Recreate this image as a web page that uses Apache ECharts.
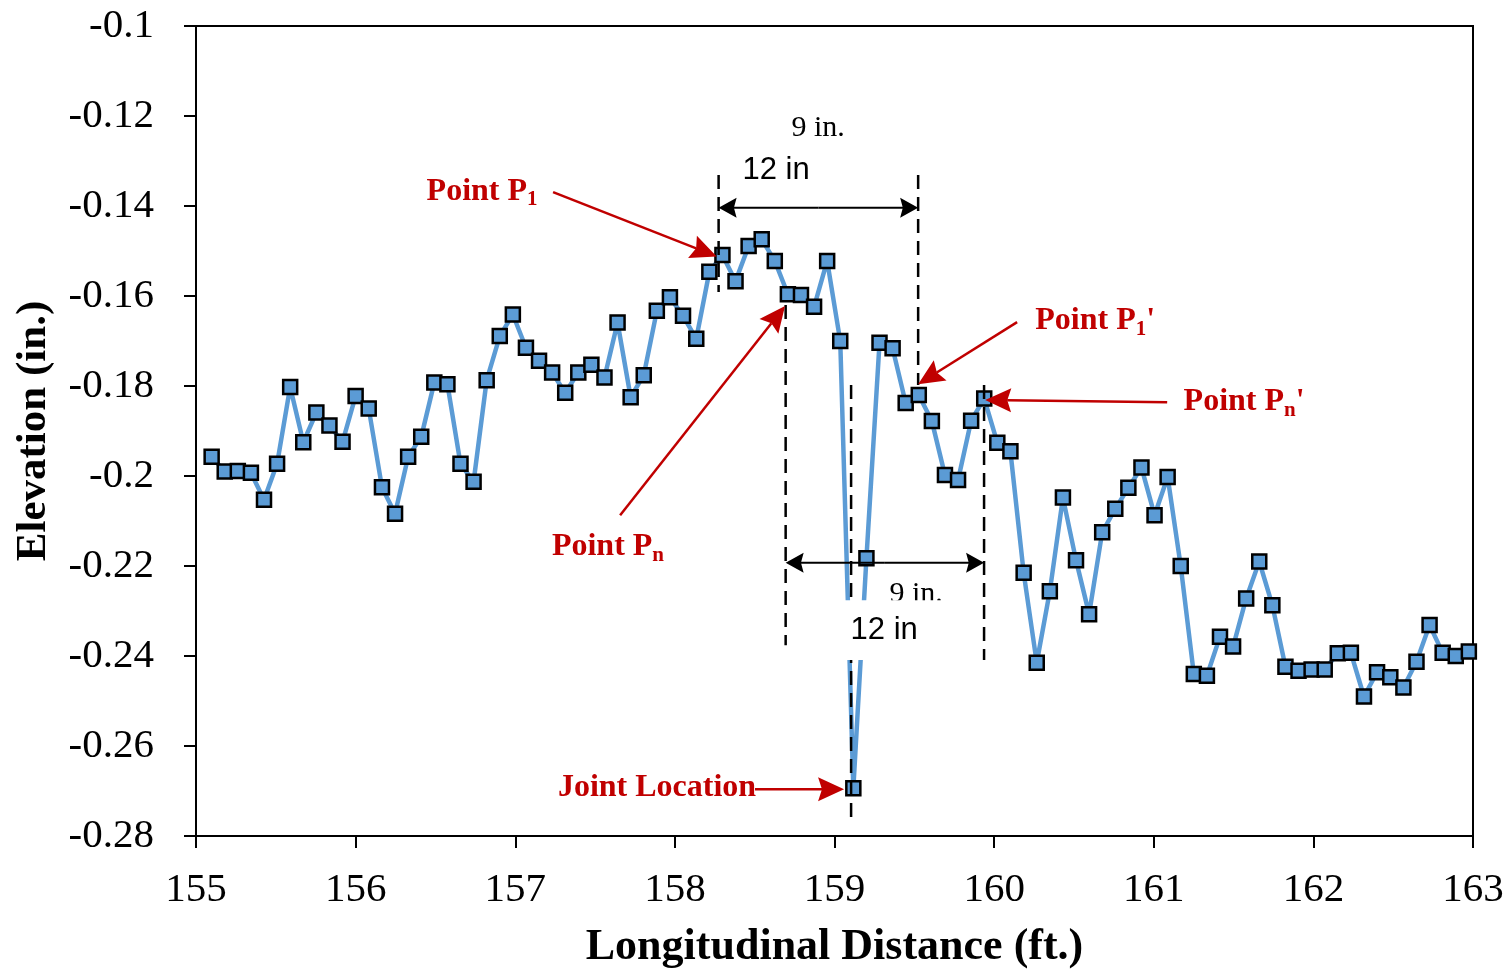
<!DOCTYPE html>
<html>
<head>
<meta charset="utf-8">
<script src="https://cdn.jsdelivr.net/npm/echarts@6/dist/echarts.min.js"></script>
<style>
  html, body { margin: 0; padding: 0; background: #fff; }
  #chart { width: 1509px; height: 970px; }
</style>
</head>
<body>
<div id="chart"></div>
<script>
  // longitudinal distance of each reading (ft.)
  const distance = [
    155.098, 155.180, 155.262, 155.344, 155.426, 155.508, 155.590, 155.672, 155.754, 155.836,
    155.918, 156.000, 156.082, 156.165, 156.247, 156.329, 156.411, 156.493, 156.575, 156.657,
    156.739, 156.821, 156.903, 156.985, 157.067, 157.149, 157.231, 157.313, 157.395, 157.477,
    157.559, 157.641, 157.723, 157.805, 157.887, 157.969, 158.051, 158.134, 158.216, 158.298,
    158.380, 158.462, 158.544, 158.626, 158.708, 158.790, 158.872, 158.954, 159.036, 159.118,
    159.200, 159.282, 159.364, 159.446, 159.528, 159.610, 159.692, 159.774, 159.856, 159.938,
    160.020, 160.102, 160.185, 160.267, 160.349, 160.431, 160.513, 160.595, 160.677, 160.759,
    160.841, 160.923, 161.005, 161.087, 161.169, 161.251, 161.333, 161.415, 161.497, 161.579,
    161.661, 161.743, 161.825, 161.907, 161.989, 162.071, 162.153, 162.235, 162.317, 162.399,
    162.482, 162.564, 162.646, 162.728, 162.810, 162.892, 162.974
  ]
  // elevation (in.)
  const elevation = [
    -0.1957, -0.1990, -0.1989, -0.1993, -0.2053, -0.1973, -0.1802, -0.1925, -0.1859, -0.1888,
    -0.1924, -0.1822, -0.1850, -0.2025, -0.2084, -0.1957, -0.1913, -0.1792, -0.1796, -0.1973,
    -0.2013, -0.1787, -0.1689, -0.1641, -0.1715, -0.1744, -0.1770, -0.1815, -0.1770, -0.1753,
    -0.1781, -0.1659, -0.1825, -0.1776, -0.1633, -0.1603, -0.1644, -0.1695, -0.1546, -0.1509,
    -0.1567, -0.1489, -0.1474, -0.1522, -0.1596, -0.1598, -0.1624, -0.1522, -0.1700, -0.2694,
    -0.2183, -0.1704, -0.1716, -0.1838, -0.1820, -0.1878, -0.1998, -0.2009, -0.1877, -0.1828,
    -0.1926, -0.1945, -0.2215, -0.2415, -0.2256, -0.2048, -0.2187, -0.2307, -0.2125, -0.2073,
    -0.2026, -0.1981, -0.2087, -0.2002, -0.2200, -0.2440, -0.2444, -0.2357, -0.2379, -0.2272,
    -0.2190, -0.2287, -0.2424, -0.2433, -0.2430, -0.2430, -0.2394, -0.2393, -0.2490, -0.2436,
    -0.2447, -0.2470, -0.2413, -0.2331, -0.2393, -0.2400, -0.2390
  ]

  // annotations, in data units
  const guides = [          // dashed verticals: x, top, bottom
    [158.274, -0.1331, -0.1591],
    [159.524, -0.1331, -0.1798],
    [158.694, -0.1620, -0.2376],
    [159.104, -0.1798, -0.2769],
    [159.937, -0.1798, -0.2409]
  ]
  const spans = [           // double arrows: x1, x2, y
    [158.274, 159.524, -0.1404],
    [158.694, 159.937, -0.2193]
  ]
  const spanLabels = [      // text, x, y, serif?
    ['9 in.', 158.897, -0.1227, true],
    ['12 in', 158.634, -0.1322, false],
    ['9 in.', 159.511, -0.2262, true],
    ['12 in', 159.311, -0.2344, false]
  ]
  const maskBox = [158.80, -0.2276, 159.80, -0.2409]
  const callouts = [
    { text: 'Point P', sub: '1', tail: '', at: [156.792, -0.1369], from: [157.237, -0.1369], to: [158.262, -0.1512] },
    { text: 'Point P', sub: 'n', tail: '', at: [157.581, -0.2158], from: [157.657, -0.2087], to: [158.690, -0.1622] },
    { text: 'Joint Location', sub: '', tail: '', at: [157.888, -0.2693], from: [158.502, -0.2696], to: [159.060, -0.2696] },
    { text: 'Point P', sub: '1', tail: "'", at: [160.633, -0.1656], from: [160.144, -0.1658], to: [159.524, -0.1796] },
    { text: 'Point P', sub: 'n', tail: "'", at: [161.566, -0.1836], from: [161.084, -0.1836], to: [159.944, -0.1831] }
  ]

  const chart = echarts.init(document.getElementById('chart'))

  chart.setOption({
    animation: false,
    backgroundColor: '#fff',
    grid: {
      left: 196, right: 36, top: 26, bottom: 134,
      outerBoundsMode: 'none',
      show: true, borderColor: '#000', borderWidth: 2
    },
    xAxis: {
      type: 'value',
      min: 155, max: 163, interval: 1,
      name: 'Longitudinal Distance (ft.)',
      nameLocation: 'middle',
      nameGap: 90,
      nameTextStyle: { fontFamily: 'Liberation Serif', fontWeight: 'bold', fontSize: 44, color: '#000' },
      axisLine: { onZero: false, lineStyle: { color: '#000', width: 2 } },
      axisTick: { length: 12, lineStyle: { color: '#000', width: 2 } },
      axisLabel: { margin: 34, fontFamily: 'Liberation Serif', fontSize: 41, color: '#000' },
      splitLine: { show: false }
    },
    yAxis: {
      type: 'value',
      min: -0.28, max: -0.1, interval: 0.02,
      name: 'Elevation (in.)',
      nameLocation: 'middle',
      nameGap: 141,
      nameTextStyle: { fontFamily: 'Liberation Serif', fontWeight: 'bold', fontSize: 43, color: '#000' },
      axisLine: { show: true, lineStyle: { color: '#000', width: 2 } },
      axisTick: { show: true, length: 12, lineStyle: { color: '#000', width: 2 } },
      axisLabel: {
        margin: 42, fontFamily: 'Liberation Serif', fontSize: 41, color: '#000',
        formatter: v => String(+v.toFixed(2))
      },
      splitLine: { show: false }
    },
    series: [{
      type: 'line',
      data: distance.map((d, i) => [d, elevation[i]]),
      symbol: 'rect',
      symbolSize: 14,
      lineStyle: { color: '#5B9BD5', width: 4.5 },
      itemStyle: { color: '#5B9BD5', borderColor: '#000', borderWidth: 2.5 },
      z: 2
    }]
  })

  const toPx = (x, y) => chart.convertToPixel({ gridIndex: 0 }, [x, y])
  const measure = document.createElement('canvas').getContext('2d')
  const textWidth = (s, font) => { measure.font = font; return measure.measureText(s).width }

  function arrowHead(tip, base, half, color, z) {
    const dx = tip[0] - base[0], dy = tip[1] - base[1]
    const len = Math.hypot(dx, dy)
    const px = -dy / len * half, py = dx / len * half
    return {
      type: 'polygon', z,
      shape: { points: [tip, [base[0] + px, base[1] + py], [base[0] + dx * 0.15, base[1] + dy * 0.15], [base[0] - px, base[1] - py]] },
      style: { fill: color }
    }
  }
  function arrow(p0, p1, color, width, len, half, z) {
    const dx = p1[0] - p0[0], dy = p1[1] - p0[1]
    const d = Math.hypot(dx, dy)
    const base = [p1[0] - dx / d * len, p1[1] - dy / d * len]
    return [
      { type: 'line', z, shape: { x1: p0[0], y1: p0[1], x2: base[0] + dx / d * 4, y2: base[1] + dy / d * 4 }, style: { stroke: color, lineWidth: width } },
      arrowHead(p1, base, half, color, z)
    ]
  }

  const elements = []
  const red = '#C00000'

  // white mask behind lower labels
  const m1 = toPx(maskBox[0], maskBox[1]), m2 = toPx(maskBox[2], maskBox[3])
  elements.push({ type: 'rect', z: 50, shape: { x: m1[0], y: m1[1], width: m2[0] - m1[0], height: m2[1] - m1[1] }, style: { fill: '#fff' } })

  guides.forEach(([x, y1, y2]) => {
    const a = toPx(x, y1), b = toPx(x, y2)
    elements.push({ type: 'line', z: 40, shape: { x1: a[0], y1: a[1], x2: b[0], y2: b[1] }, style: { stroke: '#000', lineWidth: 2.5, lineDash: [14, 8] } })
  })

  spans.forEach(([x1, x2, y]) => {
    const a = toPx(x1, y), b = toPx(x2, y)
    const mid = [(a[0] + b[0]) / 2, a[1]]
    elements.push(...arrow(mid, a, '#000', 2, 18, 10, 60), ...arrow(mid, b, '#000', 2, 18, 10, 60))
  })

  spanLabels.forEach(([t, x, y, serif]) => {
    const p = toPx(x, y)
    elements.push({
      type: 'text', z: serif ? 45 : 70, x: p[0], y: p[1],
      style: { text: t, fill: '#000', fontSize: serif ? 30 : 31, fontFamily: serif ? 'Liberation Serif' : 'Liberation Sans', align: 'center', verticalAlign: 'middle' }
    })
  })

  callouts.forEach(c => {
    const mainFont = 'bold 32px "Liberation Serif"'
    const subFont = 'bold 21px "Liberation Serif"'
    const w1 = textWidth(c.text, mainFont)
    const w2 = c.sub ? textWidth(c.sub, subFont) : 0
    const w3 = c.tail ? textWidth(c.tail, mainFont) : 0
    const p = toPx(c.at[0], c.at[1])
    let left = p[0] - (w1 + w2 + w3) / 2
    elements.push({ type: 'text', z: 80, x: left, y: p[1], style: { text: c.text, fill: red, fontSize: 32, fontWeight: 'bold', fontFamily: 'Liberation Serif', align: 'left', verticalAlign: 'middle' } })
    if (c.sub) {
      elements.push({ type: 'text', z: 80, x: left + w1, y: p[1] + 8, style: { text: c.sub, fill: red, fontSize: 21, fontWeight: 'bold', fontFamily: 'Liberation Serif', align: 'left', verticalAlign: 'middle' } })
    }
    if (c.tail) {
      elements.push({ type: 'text', z: 80, x: left + w1 + w2, y: p[1], style: { text: c.tail, fill: red, fontSize: 32, fontWeight: 'bold', fontFamily: 'Liberation Serif', align: 'left', verticalAlign: 'middle' } })
    }
    elements.push(...arrow(toPx(c.from[0], c.from[1]), toPx(c.to[0], c.to[1]), red, 2.5, 26, 12, 80))
  })

  chart.setOption({ graphic: { elements } })
</script>
</body>
</html>
